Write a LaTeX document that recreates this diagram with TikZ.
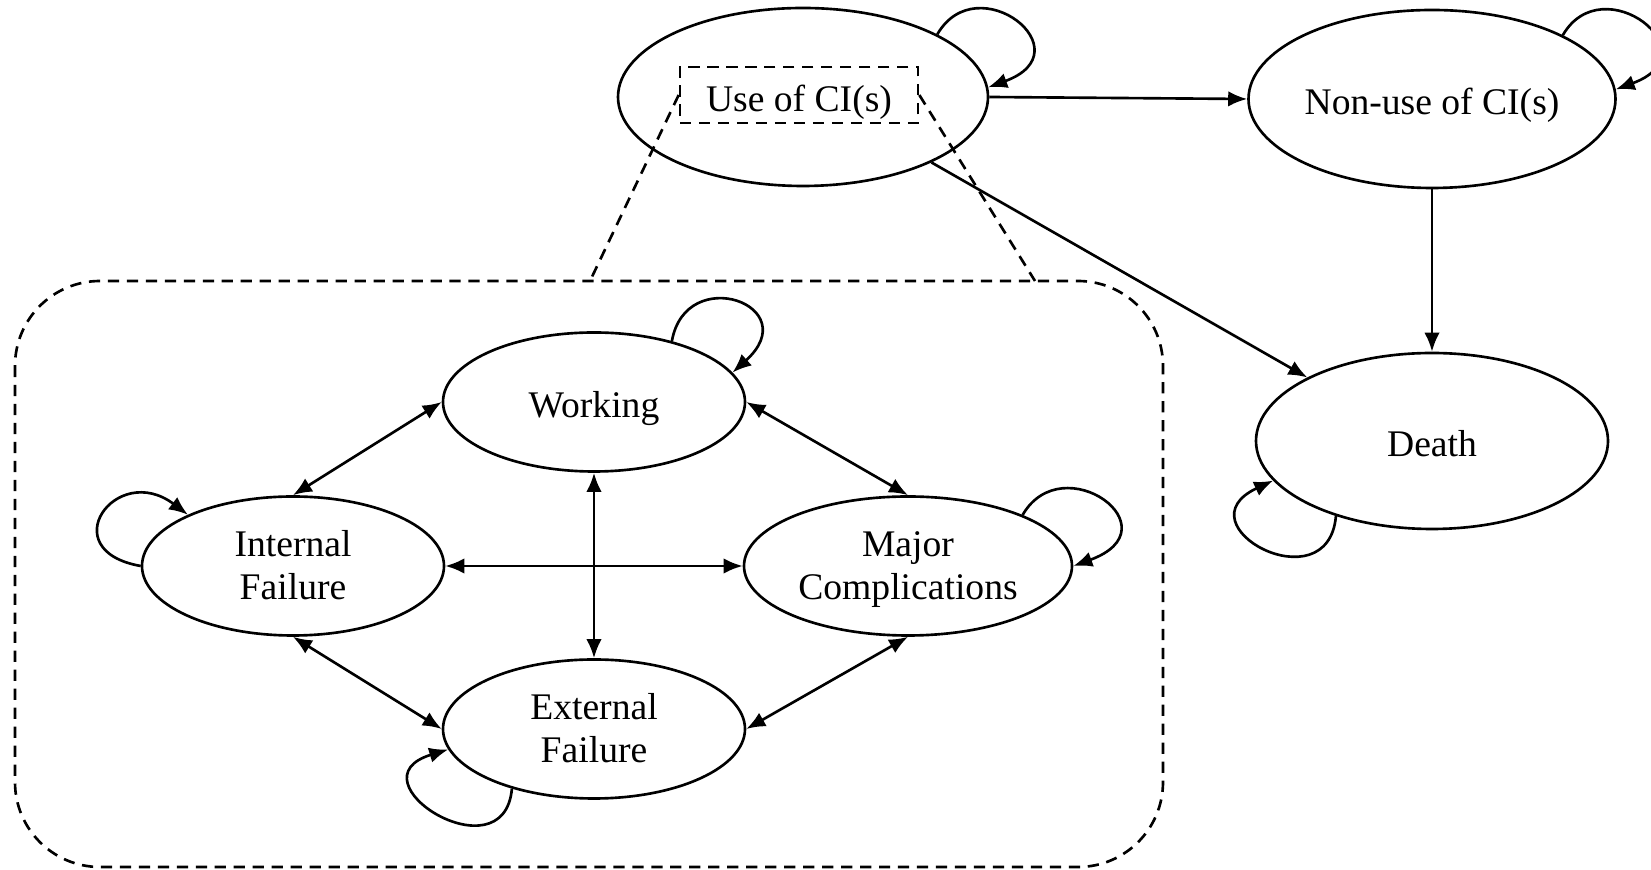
\documentclass[tikz,border=0pt]{standalone}
\usepackage{fontspec}
\setmainfont{Liberation Serif}
\usetikzlibrary{arrows.meta}
\usetikzlibrary{shapes.geometric}

\begin{document}
\begin{tikzpicture}[
  line width=0.75pt,
  >={Latex[length=5.4pt,width=4.4pt]},
  state/.style={draw, ellipse, inner sep=0pt, align=center, font=\fontsize{10.7}{12}\selectfont},
  oneline/.style={text height=8.6pt, text depth=0pt},
  twoline/.style={text height=18.8pt, text depth=0pt},
  bigstate/.style={state, oneline, minimum width=3.70cm, minimum height=1.78cm},
  smallstate/.style={state, minimum width=3.02cm, minimum height=1.39cm},
  zoombox/.style={dash pattern=on 3.2pt off 2.2pt}
]

\useasboundingbox (0,0) rectangle (16.51,-8.70);

% outer model
\node[bigstate] (use) at (8.03,-0.97) {};
\node[draw, zoombox, inner sep=0pt, minimum width=2.38cm, minimum height=0.56cm,
      text height=9.6pt, text depth=0pt,
      font=\fontsize{10.7}{12}\selectfont] (uselabel) at (7.99,-0.95) {Use of CI(s)};
\node[bigstate, minimum width=3.67cm] (nonuse) at (14.32,-0.99) {Non-use of CI(s)};
\node[bigstate, minimum width=3.52cm, minimum height=1.76cm] (death) at (14.32,-4.41) {Death};

% zoom box
\draw[zoombox, rounded corners=0.85cm] (0.15,-2.81) rectangle (11.63,-8.67);
\coordinate (zl) at (5.90,-2.81);
\coordinate (zr) at (10.35,-2.81);
\draw[zoombox] (uselabel.west) -- (zl);
\draw[zoombox] (uselabel.east) -- (zr);

% inner model
\node[smallstate, oneline] (work) at (5.94,-4.02) {Working};
\node[smallstate, twoline] (intf) at (2.93,-5.66) {Internal\\Failure};
\node[smallstate, twoline, minimum width=3.28cm] (major) at (9.08,-5.66) {Major\\Complications};
\node[smallstate, twoline] (extf) at (5.94,-7.29) {External\\Failure};

\draw[->] (use.east) -- (nonuse.west);
\draw[->] (use.-27) -- (death.153);
\draw[->] (nonuse.south) -- (death.north);

\draw[<->] (work.west) -- (intf.north);
\draw[<->] (work.east) -- (major.north);
\draw[<->] (work.south) -- (extf.north);
\draw[<->] (intf.east) -- (major.west);
\draw[<->] (intf.south) -- (extf.west);
\draw[<->] (major.south) -- (extf.east);

% self loops
\draw[->] (use.25) to[out=60, in=20, out distance=0.8cm, in distance=1.05cm] (use.3);
\draw[->] (nonuse.26) to[out=60, in=20, out distance=0.8cm, in distance=1.05cm] (nonuse.3);
\draw[->] (major.24) to[out=60, in=20, out distance=0.8cm, in distance=1.1cm] (major.east);
\draw[->] (work.38) to[out=80, in=42, out distance=0.8cm, in distance=1.0cm] (work.12);
\draw[->] (intf.180) to[out=170, in=143, out distance=0.9cm, in distance=0.9cm] (intf.154);
\draw[->] (extf.216) to[out=265, in=197, out distance=0.9cm, in distance=1.05cm] (extf.188);
\draw[->] (death.218) to[out=265, in=205, out distance=0.9cm, in distance=1.05cm] (death.194);

\end{tikzpicture}
\end{document}
